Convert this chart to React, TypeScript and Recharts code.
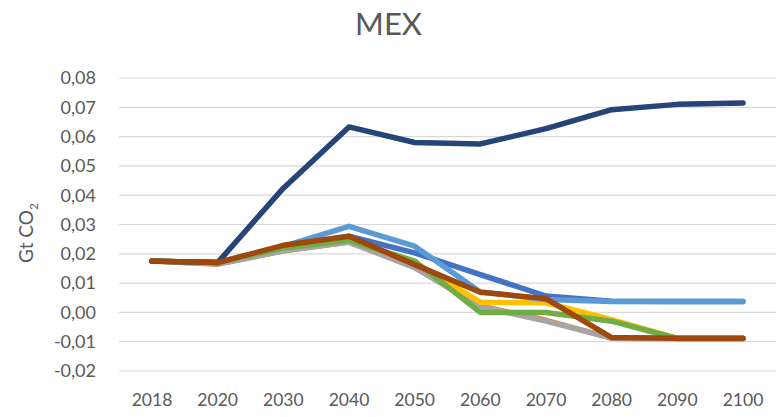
import { CartesianGrid, Label, Line, LineChart, XAxis, YAxis } from "recharts";

const years = ["2018", "2020", "2030", "2040", "2050", "2060", "2070", "2080", "2090", "2100"];

const royal = [0.0175, 0.017, 0.022, 0.026, 0.0203, 0.0129, 0.0056, 0.0038, 0.0037, 0.0037];
const orange = [0.0175, 0.0165, 0.021, 0.024, 0.0155, 0.0022, -0.0027, -0.0088, -0.0089, -0.0089];
const gray = [0.0175, 0.0165, 0.021, 0.024, 0.0153, 0.002, -0.003, -0.0088, -0.0089, -0.0089];
const yellow = [0.0175, 0.017, 0.0225, 0.025, 0.017, 0.0035, 0.0033, -0.0025, -0.0089, -0.0089];
const lightBlue = [0.0175, 0.017, 0.0225, 0.0294, 0.0226, 0.007, 0.0044, 0.0037, 0.0037, 0.0037];
const green = [0.0175, 0.017, 0.022, 0.0246, 0.0175, 0.0, 0.0, -0.003, -0.0089, -0.0089];
const navy = [0.0175, 0.017, 0.0424, 0.0633, 0.058, 0.0575, 0.0627, 0.0692, 0.071, 0.0715];
const brown = [0.0175, 0.017, 0.0229, 0.026, 0.0163, 0.0069, 0.0047, -0.0086, -0.0088, -0.0088];

const yTicks = [-0.02, -0.01, 0, 0.01, 0.02, 0.03, 0.04, 0.05, 0.06, 0.07, 0.08];

const data = years.map((year, i) => ({
    year,
    royal: royal[i],
    orange: orange[i],
    gray: gray[i],
    yellow: yellow[i],
    lightBlue: lightBlue[i],
    green: green[i],
    navy: navy[i],
    brown: brown[i],
}));

// drawing order follows the original series order (last one on top)
const series = [
    { key: "royal", color: "#4472C4" },
    { key: "orange", color: "#ED7D31" },
    { key: "gray", color: "#A5A5A5" },
    { key: "yellow", color: "#FFC000" },
    { key: "lightBlue", color: "#5B9BD5" },
    { key: "green", color: "#70AD47" },
    { key: "navy", color: "#264478" },
    { key: "brown", color: "#9E480E" },
];

const font = "Lato, 'Open Sans', sans-serif";
const textColor = "#595959";

const AxisTitle = () => (
    <text
        x={33}
        y={233}
        transform="rotate(-90, 33, 233)"
        textAnchor="middle"
        fill={textColor}
        fontFamily={font}
        fontSize={19}
    >
        Gt CO
        <tspan fontSize={12} dy={5}>2</tspan>
    </text>
);

export default function App() {
    return (
        <div style={{ position: "absolute", top: 0, left: 0, width: 777, height: 417, background: "#fff", fontFamily: font }}>
            <div
                style={{
                    position: "absolute",
                    top: 8,
                    left: 0,
                    width: 777,
                    textAlign: "center",
                    fontSize: 31,
                    lineHeight: "31px",
                    color: textColor,
                }}
            >
                MEX
            </div>
            <LineChart width={777} height={417} data={data} margin={{ top: 78, right: 1, bottom: 0, left: 0 }}>
                <CartesianGrid vertical={false} stroke="#D9D9D9" strokeWidth={1.2} />
                <XAxis
                    dataKey="year"
                    height={46}
                    padding={{ left: 33, right: 33 }}
                    axisLine={false}
                    tickLine={false}
                    tickSize={0}
                    tickMargin={23}
                    tick={{ fill: textColor, fontSize: 17.5, fontFamily: font }}
                    interval={0}
                />
                <YAxis
                    width={119}
                    domain={[-0.02, 0.08]}
                    ticks={yTicks}
                    axisLine={false}
                    tickLine={false}
                    tickSize={0}
                    tickMargin={23}
                    tick={{ fill: textColor, fontSize: 18, fontFamily: font }}
                    tickFormatter={(v: number) => v.toFixed(2).replace(".", ",")}
                >
                    <Label content={<AxisTitle />} />
                </YAxis>
                {series.map((s) => (
                    <Line
                        key={s.key}
                        type="linear"
                        dataKey={s.key}
                        stroke={s.color}
                        strokeWidth={5.5}
                        strokeLinecap="round"
                        strokeLinejoin="round"
                        dot={false}
                        activeDot={false}
                        isAnimationActive={false}
                    />
                ))}
            </LineChart>
        </div>
    );
}
